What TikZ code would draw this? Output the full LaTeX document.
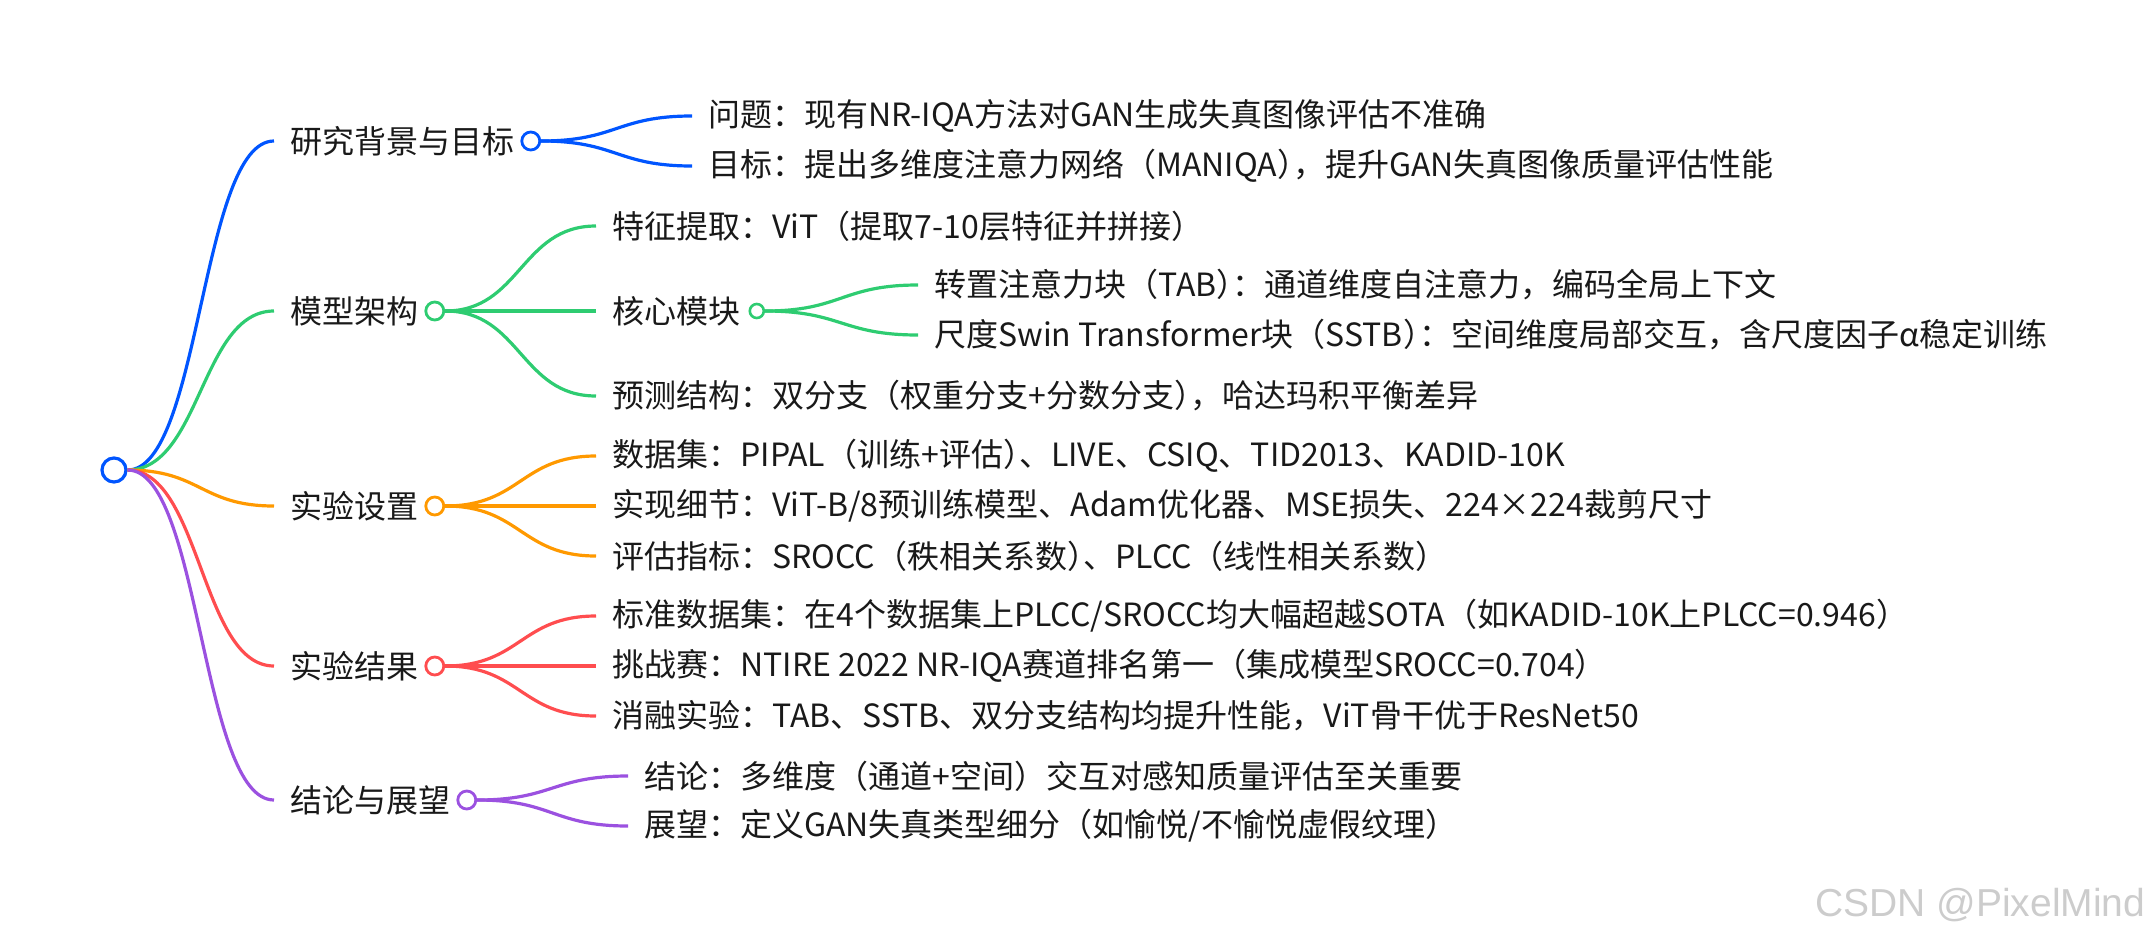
\documentclass[tikz,border=0pt]{standalone}
\usepackage{fontspec}
\setmainfont{Noto Sans CJK SC}
\newfontfamily\markfont{Liberation Sans}
\usetikzlibrary{calc}
\definecolor{mmblue}{RGB}{0,85,255}
\definecolor{mmgreen}{RGB}{46,204,113}
\definecolor{mmorange}{RGB}{255,153,0}
\definecolor{mmred}{RGB}{255,77,79}
\definecolor{mmpurple}{RGB}{155,81,224}
% closing paren squeezed before punctuation
\newcommand{\rpar}{）\kern-.5em}
\begin{document}
\begin{tikzpicture}[x=0.5pt,y=-0.5pt]
	\tikzstyle{topic} = [anchor=west,inner xsep=8pt,inner ysep=0pt,font=\fontsize{16}{19}\selectfont,text=black!90]
	\tikzstyle{knot} = [circle,fill=white,line width=1.4pt,inner sep=0pt,minimum size=9pt]
	\tikzstyle{twig} = [line width=1.6pt,to path={.. controls ($(\tikztostart)!0.5!(\tikztotarget |- \tikztostart)$) and ($(\tikztotarget)!0.5!(\tikztostart |- \tikztotarget)$) .. (\tikztotarget)}]
	
		\useasboundingbox (0,0) rectangle (2146,942);
		
		\node[knot,draw=mmblue,line width=1.6pt,minimum size=12pt] (r0) at (114,470) {};
		
		\node[topic] (t1) at (274,141) {研究背景与目标};
		\node[knot,draw=mmblue] (k1) at (t1.east) {};
		\node[topic] (t2) at (274,311) {模型架构};
		\node[knot,draw=mmgreen] (k2) at (t2.east) {};
		\node[topic] (t3) at (274,506) {实验设置};
		\node[knot,draw=mmorange] (k3) at (t3.east) {};
		\node[topic] (t4) at (274,666) {实验结果};
		\node[knot,draw=mmred] (k4) at (t4.east) {};
		\node[topic] (t5) at (274,800) {结论与展望};
		\node[knot,draw=mmpurple] (k5) at (t5.east) {};
		
		\node[topic] (t11) at (692,116) {问题：现有NR-IQA方法对GAN生成失真图像评估不准确};
		\node[topic] (t12) at (692,166) {目标：提出多维度注意力网络（MANIQA\rpar，提升GAN失真图像质量评估性能};
		
		\node[topic] (t21) at (596,226) {特征提取：ViT（提取7-10层特征并拼接）};
		\node[topic] (t22) at (596,311) {核心模块};
		\node[knot,draw=mmgreen,line width=1.3pt,minimum size=7pt] (k22) at (t22.east) {};
		\node[topic] (t221) at (918,285) {转置注意力块（TAB\rpar：通道维度自注意力，编码全局上下文};
		\node[topic] (t222) at (918,335) {尺度Swin Transformer块（SSTB\rpar：空间维度局部交互，含尺度因子α稳定训练};
		\node[topic] (t23) at (596,396) {预测结构：双分支（权重分支+分数分支\rpar，哈达玛积平衡差异};
		
		\node[topic] (t31) at (596,456) {数据集：PIPAL（训练+评估\rpar、LIVE、CSIQ、TID2013、KADID-10K};
		\node[topic] (t32) at (596,506) {实现细节：ViT-B/8预训练模型、Adam优化器、MSE损失、224×224裁剪尺寸};
		\node[topic] (t33) at (596,556) {评估指标：SROCC（秩相关系数\rpar、PLCC（线性相关系数）};
		
		\node[topic] (t41) at (596,616) {标准数据集：在4个数据集上PLCC/SROCC均大幅超越SOTA（如KADID-10K上PLCC=0.946）};
		\node[topic] (t42) at (596,666) {挑战赛：NTIRE 2022 NR-IQA赛道排名第一（集成模型SROCC=0.704）};
		\node[topic] (t43) at (596,716) {消融实验：TAB、SSTB、双分支结构均提升性能，ViT骨干优于ResNet50};
		
		\node[topic] (t51) at (628,776) {结论：多维度（通道+空间）交互对感知质量评估至关重要};
		\node[topic] (t52) at (628,826) {展望：定义GAN失真类型细分（如愉悦/不愉悦虚假纹理）};
		
		\draw[mmblue,twig] (r0.east) to (t1.west);
		\draw[mmgreen,twig] (r0.east) to (t2.west);
		\draw[mmorange,twig] (r0.east) to (t3.west);
		\draw[mmred,twig] (r0.east) to (t4.west);
		\draw[mmpurple,twig] (r0.east) to (t5.west);
		
		\draw[mmblue,twig] (k1.east) to (t11.west);
		\draw[mmblue,twig] (k1.east) to (t12.west);
		
		\draw[mmgreen,twig] (k2.east) to (t21.west);
		\draw[mmgreen,twig] (k2.east) to (t22.west);
		\draw[mmgreen,twig] (k2.east) to (t23.west);
		\draw[mmgreen,twig] (k22.east) to (t221.west);
		\draw[mmgreen,twig] (k22.east) to (t222.west);
		
		\draw[mmorange,twig] (k3.east) to (t31.west);
		\draw[mmorange,twig] (k3.east) to (t32.west);
		\draw[mmorange,twig] (k3.east) to (t33.west);
		
		\draw[mmred,twig] (k4.east) to (t41.west);
		\draw[mmred,twig] (k4.east) to (t42.west);
		\draw[mmred,twig] (k4.east) to (t43.west);
		
		\draw[mmpurple,twig] (k5.east) to (t51.west);
		\draw[mmpurple,twig] (k5.east) to (t52.west);
		
		\node[anchor=west,inner sep=0pt,font=\markfont\fontsize{19.5}{22}\selectfont,text=black!20] (wm) at (1815,905) {CSDN @PixelMind};
		
\end{tikzpicture}
\end{document}
